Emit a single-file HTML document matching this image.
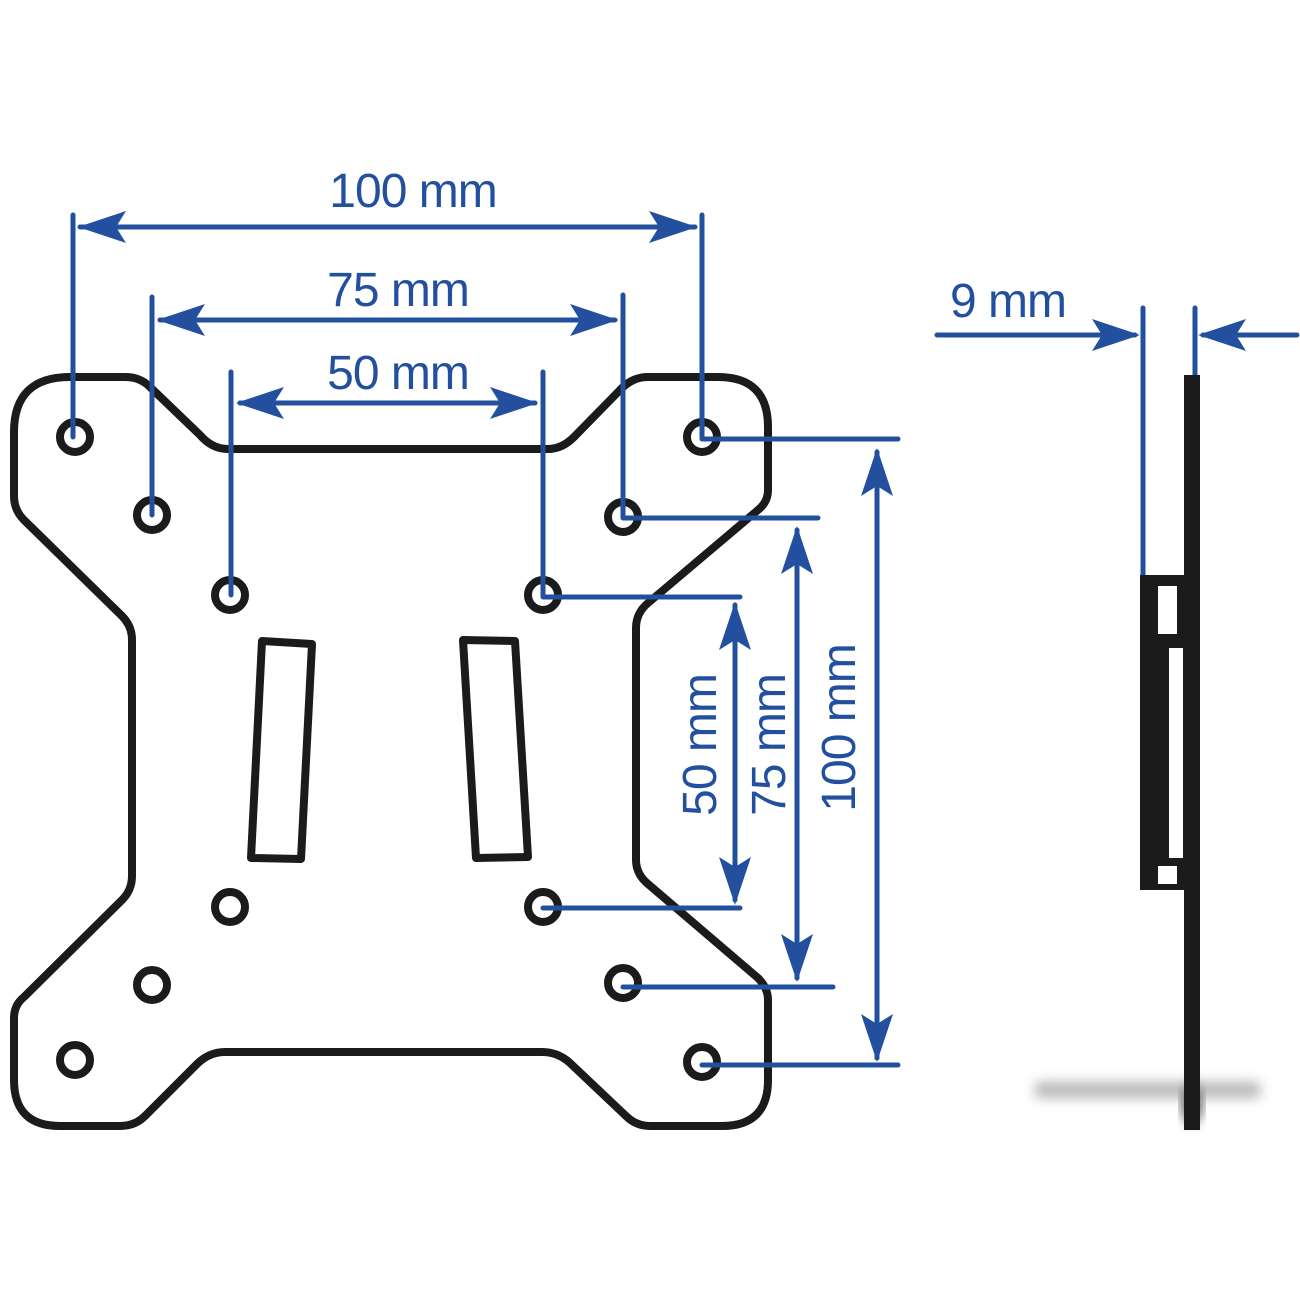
<!DOCTYPE html>
<html><head><style>body{margin:0;background:#fff}svg{display:block}</style></head>
<body>
<svg width="1300" height="1300" viewBox="0 0 1300 1300" xmlns="http://www.w3.org/2000/svg">
<defs>
<filter id="bl" x="-20%" y="-200%" width="140%" height="500%"><feGaussianBlur stdDeviation="6"/></filter>
<path id="ah" d="M0,0 L16,48 L0,38 L-16,48 Z" fill="#23509e"/>
</defs>
<g fill="none" stroke="#1b1b1b" stroke-width="8" stroke-linejoin="round">
<path d="M70,377 L125,377 Q140,377 150,387 L200,435 Q212,449 228,449 L548,449 Q562,449 574,437 L620,390 Q632,377 648,377 L718,377 Q768,377 768,427 L768,490 Q768,502 758,510 L648,603 Q636,613 636,628 L636,860 Q636,874 648,884 L758,978 Q768,988 768,1000 L768,1080 Q768,1126 722,1126 L650,1126 Q636,1126 626,1116 L570,1063 Q558,1052 542,1052 L225,1052 Q210,1052 198,1063 L145,1116 Q135,1126 120,1126 L60,1126 Q14,1126 14,1080 L14,1018 Q14,1005 24,997 L122,900 Q132,890 132,876 L132,640 Q132,626 122,616 L24,520 Q14,510 14,496 L14,432 Q14,377 70,377 Z"/>
<path d="M262,641 L312,644 L301,859 L251,858 Z"/>
<path d="M463,640 L515,641 L528,857 L476,858 Z"/>
</g>
<g fill="none" stroke="#1b1b1b" stroke-width="8">
<circle cx="75" cy="437" r="15"/><circle cx="152" cy="515" r="15"/><circle cx="230" cy="595" r="15"/>
<circle cx="543" cy="595" r="15"/><circle cx="623" cy="517" r="15"/><circle cx="702" cy="437" r="15"/>
<circle cx="230" cy="907" r="15"/><circle cx="543" cy="907" r="15"/><circle cx="152" cy="985" r="15"/>
<circle cx="623" cy="983" r="15"/><circle cx="75" cy="1060" r="15"/><circle cx="702" cy="1062" r="15"/>
</g>
<g stroke="#23509e" stroke-width="5" stroke-linecap="round" fill="none">
<path d="M73,215 V437 M702,215 V437 M80,227 H695"/>
<path d="M152,297 V515 M623,295 V517 M160,320 H615"/>
<path d="M231,372 V595 M543,372 V595 M240,403 H535"/>
<path d="M702,439 H898 M623,518 H818 M543,597 H740 M543,908 H740 M623,987 H833 M702,1065 H898"/>
<path d="M735,605 V900 M797,530 V978 M877,452 V1058"/>
<path d="M937,335 H1135 M1203,335 H1297 M1143,308 V575 M1195,308 V375"/>
</g>
<g>
<use href="#ah" transform="translate(78,227) rotate(-90)"/>
<use href="#ah" transform="translate(697,227) rotate(90)"/>
<use href="#ah" transform="translate(157,320) rotate(-90)"/>
<use href="#ah" transform="translate(618,320) rotate(90)"/>
<use href="#ah" transform="translate(236,403) rotate(-90)"/>
<use href="#ah" transform="translate(538,403) rotate(90)"/>
<use href="#ah" transform="translate(735,602)"/>
<use href="#ah" transform="translate(735,905) rotate(180)"/>
<use href="#ah" transform="translate(797,526)"/>
<use href="#ah" transform="translate(797,982) rotate(180)"/>
<use href="#ah" transform="translate(877,448)"/>
<use href="#ah" transform="translate(877,1062) rotate(180)"/>
<use href="#ah" transform="translate(1140,335) rotate(90)"/>
<use href="#ah" transform="translate(1198,335) rotate(-90)"/>
</g>
<g fill="#23509e" font-family="Liberation Sans, sans-serif" font-size="48" text-anchor="middle" letter-spacing="-1">
<text x="413" y="207">100 mm</text>
<text x="398" y="306">75 mm</text>
<text x="398" y="389">50 mm</text>
<text x="1008" y="317">9 mm</text>
<text transform="translate(716,745) rotate(-90)">50 mm</text>
<text transform="translate(785,745) rotate(-90)">75 mm</text>
<text transform="translate(855,728) rotate(-90)">100 mm</text>
</g>
<rect x="1035" y="1082" width="225" height="16" fill="#999" filter="url(#bl)" opacity="0.7"/>
<ellipse cx="1192" cy="1105" rx="10" ry="18" fill="#555" filter="url(#bl)"/>
<rect x="1184" y="375" width="16" height="755" fill="#1b1b1b"/>
<rect x="1140" y="575" width="46" height="315" fill="#1b1b1b"/>
<rect x="1158" y="586" width="19" height="48" fill="#fff"/>
<rect x="1169" y="648" width="14" height="210" fill="#fff"/>
<rect x="1158" y="866" width="19" height="18" fill="#fff"/>
</svg>
</body></html>
